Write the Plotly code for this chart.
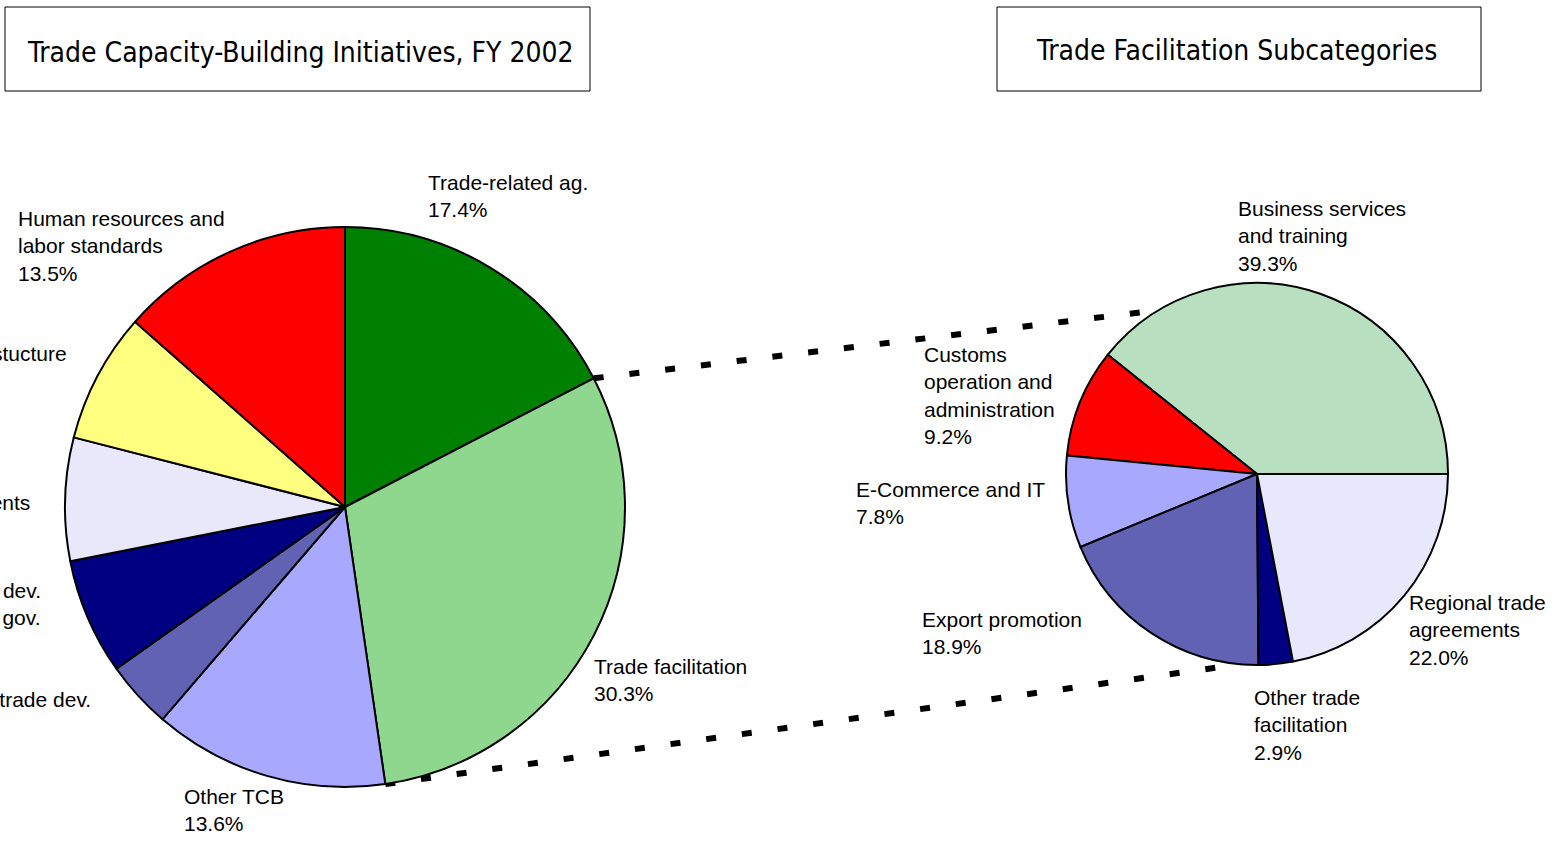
import math
import plotly.graph_objects as go

W, H = 1563, 841

# ---------------- data ----------------
main_labels = ["Trade-related ag.", "Trade facilitation", "Other TCB", "Services trade dev.",
               "Financial sector dev.<br>and good gov.", "WTO agreements",
               "Physical infrastucture", "Human resources and<br>labor standards"]
main_values = [17.4, 30.3, 13.6, 3.9, 6.7, 7.1, 7.5, 13.5]
main_colors = ["#008000", "#8fd68f", "#a8a8ff", "#6262b4", "#000080", "#e8e8fa", "#ffff80", "#ff0000"]

sub_labels = ["Business services<br>and training", "Customs<br>operation and<br>administration",
              "E-Commerce and IT", "Export promotion", "Other trade<br>facilitation",
              "Regional trade<br>agreements"]
sub_values = [39.3, 9.2, 7.8, 18.9, 2.9, 22.0]
sub_colors = ["#b8e0c0", "#ff0000", "#a8a8ff", "#6262b4", "#000080", "#e8e8fc"]

titles = ["Trade Capacity-Building Initiatives, FY 2002", "Trade Facilitation Subcategories"]

# ---------------- geometry (pixels) ----------------
C1, R1 = (345, 507), 280
C2, R2 = (1257, 474), 191

def px(x):
    return x / W

def py(y):
    return 1 - y / H

def dom(c, r):
    return dict(x=[px(c[0] - r), px(c[0] + r)], y=[py(c[1] + r), py(c[1] - r)])

FONT = "Liberation Sans, Arial, sans-serif"

# sub pie: first slice should begin at 3 o'clock and run counterclockwise
sub_first_deg = sub_values[0] / sum(sub_values) * 360
sub_rotation = 90 - sub_first_deg

fig = go.Figure()
fig.add_trace(go.Pie(labels=main_labels, values=main_values, sort=False, direction="clockwise",
                     rotation=0, textinfo="none", hoverinfo="label+percent",
                     marker=dict(colors=main_colors, line=dict(color="black", width=2)),
                     domain=dom(C1, R1), showlegend=False))
fig.add_trace(go.Pie(labels=sub_labels, values=sub_values, sort=False, direction="counterclockwise",
                     rotation=sub_rotation, textinfo="none", hoverinfo="label+percent",
                     marker=dict(colors=sub_colors, line=dict(color="black", width=2)),
                     domain=dom(C2, R2), showlegend=False))

# connector lines: from trade facilitation slice edges on the main pie to the sub pie
def pt(c, r, ang):
    a = math.radians(ang)
    return c[0] + r * math.sin(a), c[1] - r * math.cos(a)

tot = sum(main_values)
a_start = main_values[0] / tot * 360
a_end = (main_values[0] + main_values[1]) / tot * 360
p1 = pt(C1, R1, a_start)
p2 = pt(C1, R1, a_end)
q1 = pt(C2, R2, 329)
q2 = pt(C2, R2, 185)
for a, b in [(p1, q1), (p2, q2)]:
    fig.add_shape(type="line", xref="paper", yref="paper", layer="below",
                  x0=px(a[0]), y0=py(a[1]), x1=px(b[0]), y1=py(b[1]),
                  line=dict(color="black", width=6, dash="10px,26px"))

# title boxes
boxes = [((5, 7, 590, 91), (300, 52)), ((997, 7, 1481, 91), (1236, 51))]
for (x0, y0, x1, y1), (tx, ty) in boxes:
    fig.add_shape(type="rect", xref="paper", yref="paper", x0=px(x0), y0=py(y1), x1=px(x1), y1=py(y0),
                  line=dict(color="black", width=1), fillcolor="white")
for t, (_, (tx, ty)) in zip(titles, boxes):
    fig.add_annotation(text=t, xref="paper", yref="paper", x=px(tx), y=py(ty), xanchor="center",
                       yanchor="middle", showarrow=False,
                       font=dict(family="Liberation Sans Narrow, DejaVu Sans Condensed, Arial Narrow, sans-serif",
                                 size=28, color="black"))

def pct(v):
    return f"{v:.1f}%"

LS = 27  # approx line spacing

def label(text, x, y_first, anchor="left"):
    fig.add_annotation(text=text, xref="paper", yref="paper", x=px(x), y=py(y_first - 14),
                       xanchor=anchor, yanchor="top", align="left", showarrow=False,
                       font=dict(family=FONT, size=21, color="black"))

# main pie labels
label(main_labels[0] + "<br>" + pct(main_values[0]), 426, 183)
label(main_labels[1] + "<br>" + pct(main_values[1]), 592, 667)
label(main_labels[2] + "<br>" + pct(main_values[2]), 182, 797)
label(main_labels[7] + "<br>" + pct(main_values[7]), 16, 219)
# labels running off the left edge (right end visible)
label(main_labels[6], 69, 354, anchor="right")
label(main_labels[5], 32, 503, anchor="right")
for i, line in enumerate(main_labels[4].split("<br>")):
    label(line, 43, 591 + i * LS, anchor="right")
label(main_labels[3], 93, 700, anchor="right")

# sub pie labels
label(sub_labels[0] + "<br>" + pct(sub_values[0]), 1236, 209)
label(sub_labels[1] + "<br>" + pct(sub_values[1]), 922, 355)
label(sub_labels[2] + "<br>" + pct(sub_values[2]), 854, 490)
label(sub_labels[3] + "<br>" + pct(sub_values[3]), 920, 620)
label(sub_labels[5] + "<br>" + pct(sub_values[5]), 1407, 603)
label(sub_labels[4] + "<br>" + pct(sub_values[4]), 1252, 698)

fig.update_layout(width=W, height=H, margin=dict(l=0, r=0, t=0, b=0),
                  paper_bgcolor="white", plot_bgcolor="white", showlegend=False)
fig.write_html("out.html")
